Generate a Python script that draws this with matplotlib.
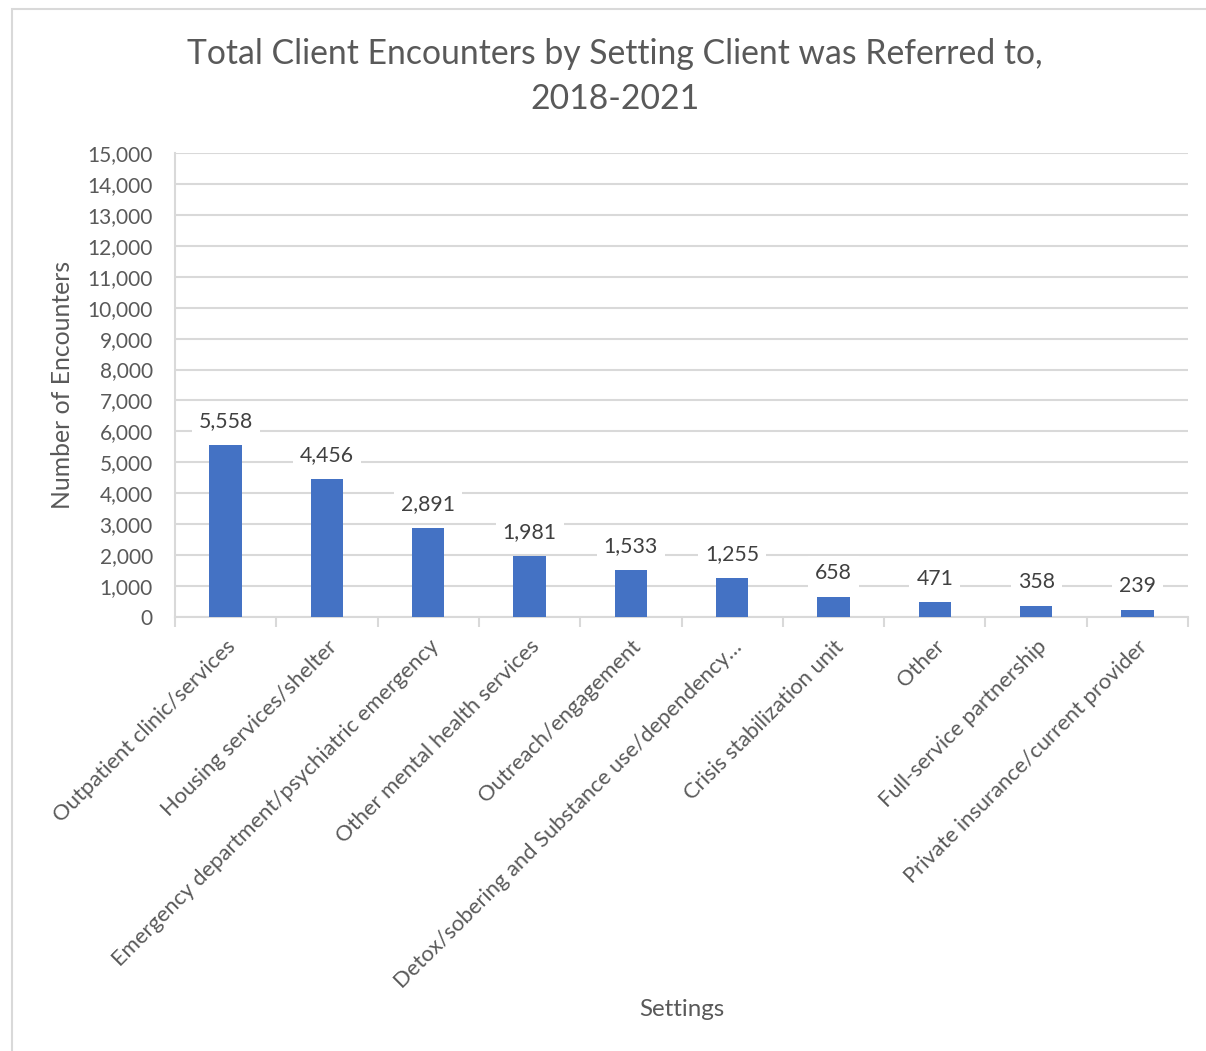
import matplotlib.pyplot as plt
import numpy as np
from matplotlib.patches import Rectangle

plt.rcParams['font.family'] = ['Lato', 'DejaVu Sans']

settings = [
    "Outpatient clinic/services",
    "Housing services/shelter",
    "Emergency department/psychiatric emergency",
    "Other mental health services",
    "Outreach/engagement",
    "Detox/sobering and Substance use/dependency\u2026",
    "Crisis stabilization unit",
    "Other",
    "Full-service partnership",
    "Private insurance/current provider",
]
encounters = [5558, 4456, 2891, 1981, 1533, 1255, 658, 471, 358, 239]

text_col = '#595959'
grid_col = '#d9d9d9'
bar_col = '#4472c4'

fig = plt.figure(figsize=(12.06, 10.51), dpi=100)
ax = fig.add_axes([175 / 1206, 1 - 617 / 1051, 1013 / 1206, 464 / 1051])

# chart frame
fig.patches.append(Rectangle((12 / 1206, -0.1), 1.2, 1.1 - 9 / 1051,
                             transform=fig.transFigure, fill=False,
                             edgecolor=grid_col, linewidth=1.5))

x = np.arange(len(settings))
bars = ax.bar(x, encounters, width=0.32, color=bar_col, zorder=3)

for xi, v in zip(x, encounters):
    ax.annotate(f"{v:,}", (xi, v), xytext=(0, 10), textcoords='offset points',
                ha='center', va='bottom', fontsize=15.3, color='#404040',
                bbox=dict(facecolor='white', edgecolor='none', pad=5), zorder=4)

ax.set_xlim(-0.5, len(settings) - 0.5)
ax.set_ylim(0, 15000)
ax.set_yticks(np.arange(0, 15001, 1000))
ax.set_yticklabels([f"{t:,}" for t in range(0, 15001, 1000)])
ax.yaxis.grid(True, color=grid_col, linewidth=1.5, zorder=0)
ax.set_axisbelow(True)

ax.set_xticks(x)
ax.set_xticklabels(settings, rotation=45, ha='right', rotation_mode='anchor')
ax.set_xticks(np.arange(-0.5, len(settings)), minor=True)
ax.tick_params(axis='x', which='major', length=0, pad=14, labelsize=15.8, labelcolor=text_col)
ax.tick_params(axis='x', which='minor', length=7, color=grid_col, width=1.5)
ax.tick_params(axis='y', length=0, pad=16, labelsize=15, labelcolor=text_col)

for side in ['top', 'right']:
    ax.spines[side].set_visible(False)
for side in ['left', 'bottom']:
    ax.spines[side].set_color(grid_col)
    ax.spines[side].set_linewidth(1.5)

ax.set_ylabel("Number of Encounters", fontsize=17.8, color=text_col, va='center')
ax.yaxis.set_label_coords(-(175 - 63) / 1013, 0.5)
ax.set_xlabel("Settings", fontsize=17.4, color=text_col, va='center')
ax.xaxis.set_label_coords(0.5, -(1010 - 617) / 464)

fig.text(615 / 1206, 1 - 54 / 1051, "Total Client Encounters by Setting Client was Referred to,",
         ha='center', va='center', fontsize=24.3, color=text_col)
fig.text(615 / 1206, 1 - 99 / 1051, "2018-2021",
         ha='center', va='center', fontsize=24.3, color=text_col)

fig.savefig('out.png', dpi=100)
